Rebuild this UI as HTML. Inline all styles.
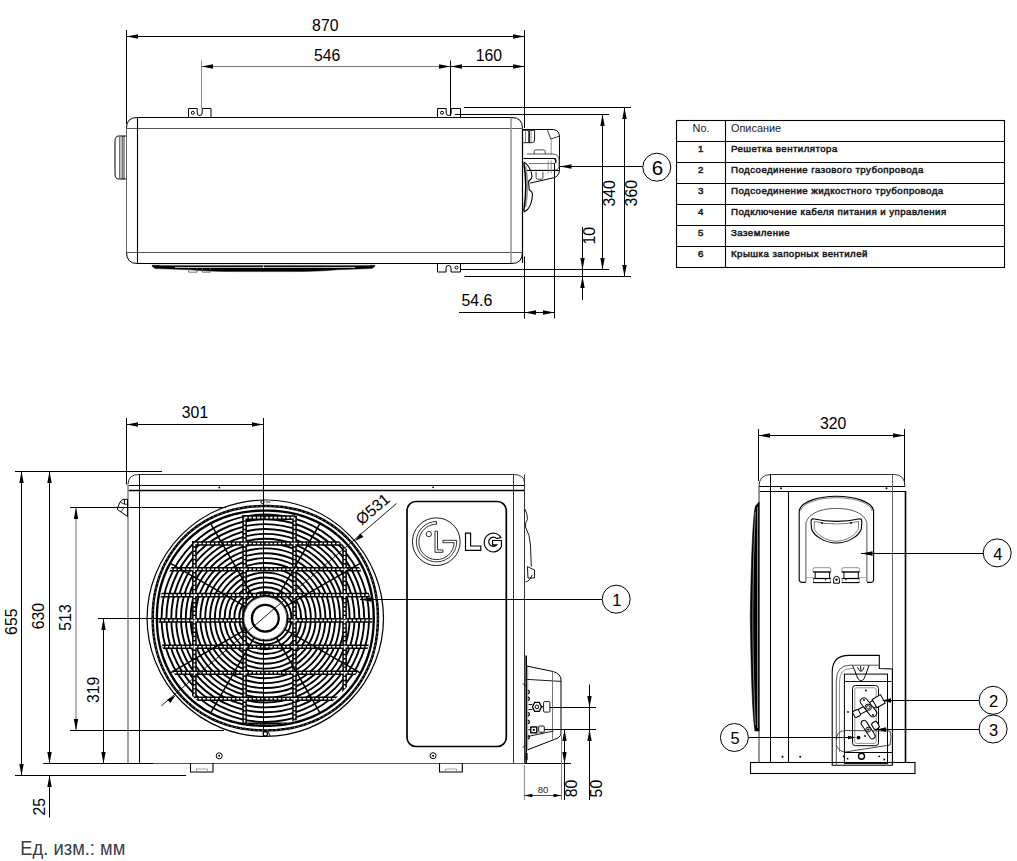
<!DOCTYPE html>
<html><head><meta charset="utf-8"><style>
html,body{margin:0;padding:0;background:#fff;overflow:hidden;}
svg{display:block;font-family:"Liberation Sans",sans-serif;}
</style></head><body>
<svg width="1017" height="861" viewBox="0 0 1017 861">
<rect width="1017" height="861" fill="#fff"/>
<line x1="126.5" y1="30" x2="126.5" y2="124" stroke="#000" stroke-width="1.0" />
<line x1="524.5" y1="30" x2="524.5" y2="128" stroke="#000" stroke-width="1.0" />
<line x1="126.5" y1="36.5" x2="524.5" y2="36.5" stroke="#000" stroke-width="1.0" />
<path d="M126.50,36.50 L138.00,34.30 L138.00,38.70 Z" fill="#000"/>
<path d="M524.50,36.50 L513.00,38.70 L513.00,34.30 Z" fill="#000"/>
<text x="325.3" y="30.8" font-size="15.8" text-anchor="middle" fill="#000" font-weight="normal" >870</text>
<line x1="201.5" y1="60.5" x2="201.5" y2="108" stroke="#8a8a8a" stroke-width="1.0" />
<line x1="450.5" y1="60.5" x2="450.5" y2="116" stroke="#000" stroke-width="1.0" />
<line x1="201.5" y1="66.5" x2="450.5" y2="66.5" stroke="#777" stroke-width="1.0" />
<line x1="450.5" y1="66.5" x2="524.5" y2="66.5" stroke="#000" stroke-width="1.0" />
<path d="M201.50,66.50 L213.00,64.30 L213.00,68.70 Z" fill="#000"/>
<path d="M450.50,66.50 L439.00,68.70 L439.00,64.30 Z" fill="#000"/>
<path d="M450.50,66.50 L462.00,64.30 L462.00,68.70 Z" fill="#000"/>
<path d="M524.50,66.50 L513.00,68.70 L513.00,64.30 Z" fill="#000"/>
<text x="327.1" y="60.6" font-size="15.8" text-anchor="middle" fill="#000" font-weight="normal" >546</text>
<text x="488.9" y="60.6" font-size="15.8" text-anchor="middle" fill="#000" font-weight="normal" >160</text>
<path d="M126.5,128 Q126.5,117.5 137,117.5 L512,117.5 Q522.5,117.5 522.5,128.5 L522.5,252 Q522.5,263.5 512,263.5 L137,263.5 Q126.5,263.5 126.5,252" stroke="#000" stroke-width="1.0" fill="none" />
<line x1="126.5" y1="128" x2="126.5" y2="252" stroke="#666" stroke-width="1" />
<line x1="126.5" y1="128.5" x2="523" y2="128.5" stroke="#555" stroke-width="1" />
<line x1="126.5" y1="252.5" x2="523" y2="252.5" stroke="#555" stroke-width="1" />
<line x1="137.5" y1="117.5" x2="137.5" y2="263" stroke="#000" stroke-width="1.1" />
<line x1="511" y1="117.5" x2="511" y2="263" stroke="#999" stroke-width="1.6" />
<path d="M188.5,117 L188.5,108.5 L197.2,108.5 L197.2,113 A2.5,2.5 0 0 0 202.2,113 L202.2,108.5 L211,108.5 L211,117" stroke="#000" stroke-width="1" fill="none" />
<circle cx="192.8" cy="112.8" r="1.5" stroke="#000" stroke-width="1" fill="none" />
<path d="M437.5,117 L437.5,108.5 L446.2,108.5 L446.2,113 A2.5,2.5 0 0 0 451.2,113 L451.2,108.5 L460.5,108.5 L460.5,117" stroke="#000" stroke-width="1" fill="none" />
<circle cx="442" cy="112.8" r="1.5" stroke="#000" stroke-width="1" fill="none" />
<path d="M437.5,263.5 L437.5,272 L446,272 L446,268 A2.5,2.5 0 0 1 451,268 L451,272 L460.5,272 L460.5,263.5" stroke="#000" stroke-width="1" fill="none" />
<circle cx="456.5" cy="267.6" r="1.5" stroke="#000" stroke-width="1" fill="none" />
<path d="M126,136 L119,136 Q115,136 115,141 L115,174 Q115,179 119,179 L126,179" stroke="#000" stroke-width="1" fill="none" />
<line x1="119.8" y1="137" x2="119.8" y2="178" stroke="#000" stroke-width="0.8" />
<line x1="122.2" y1="136" x2="122.2" y2="179" stroke="#000" stroke-width="0.8" />
<line x1="124" y1="136" x2="124" y2="179" stroke="#000" stroke-width="0.8" />
<path d="M152,265.2 L375,265.2 L375,266.2 L372,268.5 L337,269.8 Q320,271.6 291,271.6 L236,271.6 Q207,271.6 190,269.8 L155,268.5 L152,266.2 Z" stroke="#000" stroke-width="0.4" fill="#000" />
<line x1="175" y1="267.4" x2="355" y2="267.4" stroke="#fff" stroke-width="0.8" />
<line x1="160" y1="265.0" x2="370" y2="265.0" stroke="#fff" stroke-width="0.5" />
<line x1="263.5" y1="265.5" x2="263.5" y2="268.2" stroke="#fff" stroke-width="0.8" />
<path d="M188.7,268 L188.7,272.2 L197,272.2 L197,268 M202.4,268 L202.4,272.2 L210.3,272.2 L210.3,268" stroke="#555" stroke-width="0.8" fill="none" />
<path d="M523,129.5 L553.5,129.5 Q559.5,130.5 559.5,137 L559.5,170.3 Q559,176.5 553.5,177.8 L530.1,183.1" stroke="#000" stroke-width="1" fill="none" />
<path d="M547.4,129.9 L550.8,139 L559.1,136.3" stroke="#000" stroke-width="0.8" fill="none" />
<line x1="551.2" y1="139" x2="551.2" y2="154.4" stroke="#777" stroke-width="0.8" />
<path d="M523.3,130.3 L534.6,130.3 L534.6,140 Q534.6,142.7 531.5,142.7 L523.3,142.7" stroke="#000" stroke-width="0.9" fill="none" />
<line x1="525.5" y1="130.5" x2="525.5" y2="142.5" stroke="#666" stroke-width="0.8" />
<line x1="529.1" y1="130.5" x2="529.1" y2="142.5" stroke="#000" stroke-width="1.5" />
<line x1="531" y1="130.5" x2="531" y2="142.5" stroke="#666" stroke-width="0.7" />
<path d="M527,154 L553,154 Q559.1,154.5 559.1,160 L559.1,166 Q559,170.3 553,170.3 L527,170.3" stroke="#444" stroke-width="0.9" fill="none" />
<line x1="523.3" y1="158.5" x2="555.7" y2="158.5" stroke="#000" stroke-width="1.1" />
<path d="M554.6,158.5 Q556.5,160 555.5,163" stroke="#000" stroke-width="1.4" fill="none" />
<line x1="529" y1="163.5" x2="554.2" y2="163.5" stroke="#555" stroke-width="0.8" />
<line x1="527" y1="170.5" x2="559.1" y2="170.5" stroke="#000" stroke-width="1.1" />
<path d="M534.2,154 L534.2,151.5 Q534.2,149.9 536,149.9 L543.5,149.9 Q545.2,149.9 545.2,151.5 L545.2,154" stroke="#333" stroke-width="0.9" fill="none" />
<path d="M536.1,171.8 L536.1,177.5 Q536.1,179.3 538,179.3 L541,179.3 Q542.9,179.3 542.9,177.5 L542.9,171.8" stroke="#333" stroke-width="0.9" fill="none" />
<line x1="548.2" y1="160.5" x2="548.2" y2="173.3" stroke="#777" stroke-width="0.8" />
<line x1="551.2" y1="160.5" x2="551.2" y2="173.3" stroke="#777" stroke-width="0.8" />
<path d="M525.5,166 Q529.5,185 525.5,207" stroke="#999" stroke-width="1.6" fill="none" />
<path d="M523.6,162 C526,163 531,168 531.9,175 C532.5,179 530,180 528.5,181 L529.3,190 C531,191 532.8,192 532.5,195 C532,200 531,206 527.5,209.5 C525.5,211 524,212 523.6,212" stroke="#000" stroke-width="1.1" fill="none" />
<path d="M523.8,163 Q527.8,185 523.8,211" stroke="#000" stroke-width="1.5" fill="none" />
<line x1="522.5" y1="129" x2="522.5" y2="263" stroke="#000" stroke-width="1.2" />
<line x1="464" y1="107.5" x2="631" y2="107.5" stroke="#000" stroke-width="1.0" />
<line x1="455" y1="114.5" x2="609" y2="114.5" stroke="#000" stroke-width="1.0" />
<line x1="460.5" y1="269.5" x2="609" y2="269.5" stroke="#000" stroke-width="1.0" />
<line x1="464.5" y1="276.5" x2="631" y2="276.5" stroke="#000" stroke-width="1.0" />
<line x1="602.5" y1="114.5" x2="602.5" y2="269.5" stroke="#000" stroke-width="1.0" />
<path d="M602.50,114.50 L604.70,126.00 L600.30,126.00 Z" fill="#000"/>
<path d="M602.50,269.50 L600.30,258.00 L604.70,258.00 Z" fill="#000"/>
<line x1="624.5" y1="107.5" x2="624.5" y2="276.5" stroke="#000" stroke-width="1.0" />
<path d="M624.50,107.50 L626.70,119.00 L622.30,119.00 Z" fill="#000"/>
<path d="M624.50,276.50 L622.30,265.00 L626.70,265.00 Z" fill="#000"/>
<text x="615.0" y="193.4" font-size="15.8" text-anchor="middle" fill="#000" font-weight="normal" transform="rotate(-90 615.0 193.4)" >340</text>
<text x="637.2" y="193.2" font-size="15.8" text-anchor="middle" fill="#000" font-weight="normal" transform="rotate(-90 637.2 193.2)" >360</text>
<line x1="582.5" y1="227" x2="582.5" y2="300" stroke="#000" stroke-width="1.0" />
<path d="M582.50,269.50 L580.30,258.00 L584.70,258.00 Z" fill="#000"/>
<path d="M582.50,276.50 L584.70,288.00 L580.30,288.00 Z" fill="#000"/>
<text x="595.1" y="235.8" font-size="15.8" text-anchor="middle" fill="#000" font-weight="normal" transform="rotate(-90 595.1 235.8)" >10</text>
<line x1="524.5" y1="256.5" x2="524.5" y2="318.5" stroke="#000" stroke-width="1.0" />
<line x1="554.5" y1="163" x2="554.5" y2="318.5" stroke="#000" stroke-width="1.0" />
<line x1="459" y1="312.5" x2="554.5" y2="312.5" stroke="#000" stroke-width="1.0" />
<path d="M524.50,312.50 L536.00,310.30 L536.00,314.70 Z" fill="#000"/>
<path d="M554.50,312.50 L543.00,314.70 L543.00,310.30 Z" fill="#000"/>
<text x="461.5" y="306.3" font-size="15.8" text-anchor="start" fill="#000" font-weight="normal" >54.6</text>
<line x1="560" y1="166.5" x2="642.6" y2="166.5" stroke="#000" stroke-width="1.0" />
<path d="M560.00,166.50 L571.50,164.30 L571.50,168.70 Z" fill="#000"/>
<circle cx="656.8" cy="167.2" r="14" stroke="#000" stroke-width="1.0" fill="#fff" />
<text x="657.4" y="175.27999999999997" font-size="20.5" text-anchor="middle" fill="#000" font-weight="normal" >6</text>
<rect x="676.5" y="120.5" width="328.0" height="147" fill="none" stroke="#000" stroke-width="1.1"/>
<line x1="725.5" y1="120.5" x2="725.5" y2="267.5" stroke="#000" stroke-width="1.1" />
<line x1="676.5" y1="141.5" x2="1004.5" y2="141.5" stroke="#000" stroke-width="1.1" />
<line x1="676.5" y1="162.5" x2="1004.5" y2="162.5" stroke="#000" stroke-width="1.1" />
<line x1="676.5" y1="183.5" x2="1004.5" y2="183.5" stroke="#000" stroke-width="1.1" />
<line x1="676.5" y1="204.5" x2="1004.5" y2="204.5" stroke="#000" stroke-width="1.1" />
<line x1="676.5" y1="225.5" x2="1004.5" y2="225.5" stroke="#000" stroke-width="1.1" />
<line x1="676.5" y1="246.5" x2="1004.5" y2="246.5" stroke="#000" stroke-width="1.1" />
<text x="701" y="131.9" font-size="10.9" text-anchor="middle" fill="#1a1a1a" font-weight="normal" >No.</text>
<text x="731" y="131.9" font-size="10.9" text-anchor="start" fill="#1a1a1a" font-weight="normal" >Описание</text>
<text x="701" y="151.9" font-size="9.7" text-anchor="middle" fill="#1a1a1a" font-weight="normal" stroke="#1a1a1a" stroke-width="0.5" letter-spacing="0.45">1</text>
<text x="731" y="151.9" font-size="9.7" text-anchor="start" fill="#1a1a1a" font-weight="normal" stroke="#1a1a1a" stroke-width="0.5" letter-spacing="0.45">Решетка вентилятора</text>
<text x="701" y="172.9" font-size="9.7" text-anchor="middle" fill="#1a1a1a" font-weight="normal" stroke="#1a1a1a" stroke-width="0.5" letter-spacing="0.45">2</text>
<text x="731" y="172.9" font-size="9.7" text-anchor="start" fill="#1a1a1a" font-weight="normal" stroke="#1a1a1a" stroke-width="0.5" letter-spacing="0.45">Подсоединение газового трубопровода</text>
<text x="701" y="193.9" font-size="9.7" text-anchor="middle" fill="#1a1a1a" font-weight="normal" stroke="#1a1a1a" stroke-width="0.5" letter-spacing="0.45">3</text>
<text x="731" y="193.9" font-size="9.7" text-anchor="start" fill="#1a1a1a" font-weight="normal" stroke="#1a1a1a" stroke-width="0.5" letter-spacing="0.45">Подсоединение жидкостного трубопровода</text>
<text x="701" y="214.9" font-size="9.7" text-anchor="middle" fill="#1a1a1a" font-weight="normal" stroke="#1a1a1a" stroke-width="0.5" letter-spacing="0.45">4</text>
<text x="731" y="214.9" font-size="9.7" text-anchor="start" fill="#1a1a1a" font-weight="normal" stroke="#1a1a1a" stroke-width="0.5" letter-spacing="0.45">Подключение кабеля питания и управления</text>
<text x="701" y="235.9" font-size="9.7" text-anchor="middle" fill="#1a1a1a" font-weight="normal" stroke="#1a1a1a" stroke-width="0.5" letter-spacing="0.45">5</text>
<text x="731" y="235.9" font-size="9.7" text-anchor="start" fill="#1a1a1a" font-weight="normal" stroke="#1a1a1a" stroke-width="0.5" letter-spacing="0.45">Заземление</text>
<text x="701" y="256.9" font-size="9.7" text-anchor="middle" fill="#1a1a1a" font-weight="normal" stroke="#1a1a1a" stroke-width="0.5" letter-spacing="0.45">6</text>
<text x="731" y="256.9" font-size="9.7" text-anchor="start" fill="#1a1a1a" font-weight="normal" stroke="#1a1a1a" stroke-width="0.5" letter-spacing="0.45">Крышка запорных вентилей</text>
<line x1="126.5" y1="418" x2="126.5" y2="484.5" stroke="#000" stroke-width="1.0" />
<line x1="263.5" y1="418" x2="263.5" y2="736" stroke="#000" stroke-width="1.0" />
<line x1="126.5" y1="424.5" x2="263.5" y2="424.5" stroke="#000" stroke-width="1.0" />
<path d="M126.50,424.50 L138.00,422.30 L138.00,426.70 Z" fill="#000"/>
<path d="M263.50,424.50 L252.00,426.70 L252.00,422.30 Z" fill="#000"/>
<text x="195" y="418.3" font-size="15.8" text-anchor="middle" fill="#000" font-weight="normal" >301</text>
<line x1="15" y1="471.5" x2="162" y2="471.5" stroke="#000" stroke-width="1.0" />
<path d="M128,484.5 Q128,474.5 139,474.5 L513.5,474.5 Q524.5,474.5 524.5,483 L524.5,490.5" stroke="#333" stroke-width="1" fill="none" />
<line x1="128" y1="485.5" x2="524.5" y2="485.5" stroke="#000" stroke-width="1.0" />
<line x1="128" y1="490.5" x2="524.3" y2="490.5" stroke="#000" stroke-width="1.6" />
<line x1="139.5" y1="474.5" x2="139.5" y2="763.5" stroke="#000" stroke-width="1.0" />
<line x1="128" y1="485" x2="128" y2="763.5" stroke="#9a9a9a" stroke-width="1.8" />
<line x1="513.5" y1="474.5" x2="513.5" y2="763.5" stroke="#333" stroke-width="1" />
<circle cx="219.3" cy="487.5" r="0.9" stroke="#000" stroke-width="0" fill="#000" />
<circle cx="433.1" cy="487.3" r="0.9" stroke="#000" stroke-width="0" fill="#000" />
<line x1="128" y1="763.5" x2="524.5" y2="763.5" stroke="#555" stroke-width="1" />
<path d="M190.5,763 L190.5,772 L213,772 L213,763" stroke="#000" stroke-width="1.1" fill="none" />
<path d="M196.5,771 L196.5,769 L207.5,769 L207.5,771" stroke="#888" stroke-width="0.8" fill="none" />
<path d="M439.5,763 L439.5,772 L462.3,772 L462.3,763" stroke="#000" stroke-width="1.1" fill="none" />
<path d="M445.5,771 L445.5,769 L456.5,769 L456.5,771" stroke="#888" stroke-width="0.8" fill="none" />
<circle cx="219.2" cy="755.8" r="3" stroke="#000" stroke-width="1" fill="none" />
<circle cx="219.2" cy="755.8" r="1" stroke="#000" stroke-width="0" fill="#000" />
<circle cx="433.1" cy="755.7" r="3" stroke="#000" stroke-width="1" fill="none" />
<circle cx="433.1" cy="755.7" r="1" stroke="#000" stroke-width="0" fill="#000" />
<path d="M127.5,499.3 L123,499.3 Q119.5,501 117.9,507.1 L117.3,509.5 L127.5,516.4 Z" stroke="#000" stroke-width="1" fill="none" />
<line x1="124.4" y1="499.8" x2="124.4" y2="504.2" stroke="#000" stroke-width="1" />
<line x1="120.5" y1="502.2" x2="124.4" y2="504.2" stroke="#000" stroke-width="0.8" />
<line x1="124" y1="507.5" x2="121" y2="511.8" stroke="#000" stroke-width="0.8" />
<line x1="124.4" y1="504.2" x2="127.5" y2="504.2" stroke="#000" stroke-width="0.8" />
<rect x="407" y="501.5" width="99.3" height="245" rx="9" ry="9" fill="none" stroke="#000" stroke-width="1.7"/>
<circle cx="436.3" cy="541.7" r="23.85" stroke="#000" stroke-width="0.9" fill="none" />
<path d="M436.5,521.5 A20.2,20.2 0 1 0 456.7,540.3 L442.9,540.3 L442.9,542.7 L454.2,542.7 A17.7,17.7 0 1 1 436.5,524.2 Z" stroke="#000" stroke-width="0.8" fill="none" />
<path d="M435,531.2 L437.5,531.2 L437.5,549.9 L442.9,549.9 L442.9,552.3 L435,552.3 Z" stroke="#000" stroke-width="0.8" fill="none" />
<circle cx="428.8" cy="534.1" r="2.65" stroke="#000" stroke-width="0.8" fill="none" />
<path d="M465.5,533.1 L470.6,533.1 L470.6,546 L480.8,546 L480.8,550.3 L465.5,550.3 Z" stroke="#000" stroke-width="1.15" fill="#fff" />
<path d="M500.9,537.6 A9,9.4 0 1 0 501.4,546.5 L501.4,540.5 L492.6,540.5 L492.6,544.8 L496.8,544.8 A4.6,4.6 0 1 1 496.7,538.6 Z" stroke="#000" stroke-width="1.15" fill="#fff" />
<path d="M524.9,509 Q528,515 527.4,519.4 Q525,522 525.5,527 Q530,535 530.5,545 L531.3,566.6" stroke="#000" stroke-width="0.9" fill="none" />
<path d="M527.4,566.6 L534.5,570 L534.5,578 L528,578 Z M525.5,582 Q530,581 532,575" stroke="#000" stroke-width="0.9" fill="none" />
<line x1="524.5" y1="474.5" x2="524.5" y2="763.5" stroke="#333" stroke-width="1" />
<line x1="526.2" y1="655.6" x2="526.2" y2="763" stroke="#000" stroke-width="1.6" />
<line x1="527.6" y1="666" x2="527.6" y2="749.8" stroke="#aaa" stroke-width="1.4" />
<path d="M526.9,666 L553.4,671.6 Q561,674 561,680 L561,733.7 Q560,738 554.8,739.3 L527.6,749.8" stroke="#000" stroke-width="1" fill="none" />
<line x1="525.5" y1="679.3" x2="561" y2="681.4" stroke="#000" stroke-width="0.9" />
<line x1="552.5" y1="671.6" x2="552.5" y2="739.3" stroke="#666" stroke-width="0.9" />
<line x1="527.6" y1="736.5" x2="553.4" y2="731" stroke="#000" stroke-width="0.9" />
<line x1="522.5" y1="683.5" x2="525.5" y2="685.5" stroke="#000" stroke-width="0.8" />
<line x1="522.5" y1="747.5" x2="525.5" y2="745.5" stroke="#000" stroke-width="0.8" />
<path d="M527.8,690.3 A1.6,1.6 0 0 1 527.8,693.5" stroke="#000" stroke-width="1.2" fill="none" />
<path d="M527.8,697.1999999999999 A1.6,1.6 0 0 1 527.8,700.4" stroke="#000" stroke-width="1.2" fill="none" />
<path d="M527.8,712.6 A1.6,1.6 0 0 1 527.8,715.8000000000001" stroke="#000" stroke-width="1.2" fill="none" />
<path d="M527.8,720.3 A1.6,1.6 0 0 1 527.8,723.5" stroke="#000" stroke-width="1.2" fill="none" />
<path d="M527.8,735.6 A1.6,1.6 0 0 1 527.8,738.8000000000001" stroke="#000" stroke-width="1.2" fill="none" />
<path d="M526.5,753 L526.5,760" stroke="#000" stroke-width="2.2" fill="none" />
<path d="M528.5,704.5 L532.4,704.5 M528.5,709.5 L532.4,709.5" stroke="#000" stroke-width="0.9" fill="none" />
<path d="M534.7,702.3 L539.2,702.3 L541.5,706.85 L539.2,711.4 L534.7,711.4 L532.4,706.85 Z" stroke="#000" stroke-width="1.3" fill="none" />
<circle cx="536.95" cy="706.85" r="1.8" stroke="#000" stroke-width="1" fill="none" />
<rect x="543.6" y="701.6" width="6.3" height="10.5" rx="1" fill="#fff" stroke="#000" stroke-width="0.9"/>
<line x1="541.5" y1="706.85" x2="543.6" y2="706.85" stroke="#000" stroke-width="1" />
<rect x="530.8" y="727" width="6" height="5.8" fill="none" stroke="#000" stroke-width="1.4"/>
<circle cx="533.8" cy="729.9" r="1.1" stroke="#000" stroke-width="0" fill="#000" />
<rect x="538.7" y="726" width="5.6" height="6.3" rx="1" fill="#fff" stroke="#000" stroke-width="0.9"/>
<line x1="528.3" y1="729.7" x2="530.8" y2="729.7" stroke="#000" stroke-width="0.9" />
<line x1="549.9" y1="707.5" x2="596" y2="707.5" stroke="#000" stroke-width="1.0" />
<line x1="544.3" y1="729.5" x2="596" y2="729.5" stroke="#000" stroke-width="1.0" />
<line x1="589.5" y1="684.5" x2="589.5" y2="800" stroke="#000" stroke-width="1.0" />
<path d="M589.50,707.50 L587.30,696.00 L591.70,696.00 Z" fill="#000"/>
<path d="M589.50,729.50 L591.70,741.00 L587.30,741.00 Z" fill="#000"/>
<line x1="524.5" y1="763.5" x2="571" y2="763.5" stroke="#000" stroke-width="1.0" />
<line x1="564.5" y1="729.5" x2="564.5" y2="800" stroke="#000" stroke-width="1.0" />
<path d="M564.50,729.50 L566.70,741.00 L562.30,741.00 Z" fill="#000"/>
<path d="M564.50,763.50 L562.30,752.00 L566.70,752.00 Z" fill="#000"/>
<line x1="524.4" y1="765" x2="524.4" y2="800" stroke="#777" stroke-width="0.9" />
<line x1="561.5" y1="735" x2="561.5" y2="800" stroke="#777" stroke-width="0.9" />
<line x1="524.4" y1="795.5" x2="561.5" y2="795.5" stroke="#333" stroke-width="0.9" />
<path d="M524.40,795.50 L532.40,793.70 L532.40,797.30 Z" fill="#000"/>
<path d="M561.50,795.50 L553.50,797.30 L553.50,793.70 Z" fill="#000"/>
<text x="543" y="792.5" font-size="9.5" text-anchor="middle" fill="#222" font-weight="normal" >80</text>
<text x="577.2" y="788.4" font-size="15.8" text-anchor="middle" fill="#000" font-weight="normal" transform="rotate(-90 577.2 788.4)" >80</text>
<text x="602.5" y="788.6" font-size="15.8" text-anchor="middle" fill="#000" font-weight="normal" transform="rotate(-90 602.5 788.6)" >50</text>
<line x1="21.5" y1="471.5" x2="21.5" y2="775" stroke="#000" stroke-width="1.0" />
<path d="M21.50,471.50 L23.70,483.00 L19.30,483.00 Z" fill="#000"/>
<path d="M21.50,775.50 L19.30,764.00 L23.70,764.00 Z" fill="#000"/>
<line x1="49.5" y1="471.5" x2="49.5" y2="763.5" stroke="#000" stroke-width="1.0" />
<path d="M49.50,471.50 L51.70,483.00 L47.30,483.00 Z" fill="#000"/>
<path d="M49.50,763.50 L47.30,752.00 L51.70,752.00 Z" fill="#000"/>
<line x1="49.5" y1="775.5" x2="49.5" y2="817.5" stroke="#000" stroke-width="1.0" />
<path d="M49.50,775.50 L51.70,787.00 L47.30,787.00 Z" fill="#000"/>
<line x1="76" y1="507.5" x2="76" y2="730.5" stroke="#888" stroke-width="1.2" />
<path d="M76.00,507.50 L78.20,519.00 L73.80,519.00 Z" fill="#000"/>
<path d="M76.00,730.50 L73.80,719.00 L78.20,719.00 Z" fill="#000"/>
<line x1="103.5" y1="618.5" x2="103.5" y2="763.5" stroke="#000" stroke-width="1.0" />
<path d="M103.50,618.50 L105.70,630.00 L101.30,630.00 Z" fill="#000"/>
<path d="M103.50,763.50 L101.30,752.00 L105.70,752.00 Z" fill="#000"/>
<line x1="70" y1="507.5" x2="226" y2="507.5" stroke="#000" stroke-width="1.0" />
<line x1="70" y1="730.5" x2="224" y2="730.5" stroke="#000" stroke-width="1.0" />
<line x1="43.3" y1="763.5" x2="153" y2="763.5" stroke="#000" stroke-width="1.0" />
<line x1="15" y1="775.5" x2="186" y2="775.5" stroke="#000" stroke-width="1.0" />
<line x1="98" y1="618.5" x2="265" y2="618.5" stroke="#000" stroke-width="1.0" />
<text x="17.2" y="621.7" font-size="15.8" text-anchor="middle" fill="#000" font-weight="normal" transform="rotate(-90 17.2 621.7)" >655</text>
<text x="44.4" y="616.1" font-size="15.8" text-anchor="middle" fill="#000" font-weight="normal" transform="rotate(-90 44.4 616.1)" >630</text>
<text x="71.3" y="617.5" font-size="15.8" text-anchor="middle" fill="#000" font-weight="normal" transform="rotate(-90 71.3 617.5)" >513</text>
<text x="99.1" y="689.9" font-size="15.8" text-anchor="middle" fill="#000" font-weight="normal" transform="rotate(-90 99.1 689.9)" >319</text>
<text x="44.6" y="806.7" font-size="15.8" text-anchor="middle" fill="#000" font-weight="normal" transform="rotate(-90 44.6 806.7)" >25</text>
<line x1="360" y1="599.5" x2="602.2" y2="599.5" stroke="#000" stroke-width="1.0" />
<path d="M360.00,599.50 L371.50,597.30 L371.50,601.70 Z" fill="#000"/>
<circle cx="616.2" cy="599.2" r="14" stroke="#000" stroke-width="1.0" fill="#fff" />
<text x="616.8000000000001" y="605.8400000000001" font-size="16.5" text-anchor="middle" fill="#000" font-weight="normal" >1</text>
<line x1="758.5" y1="429" x2="758.5" y2="481" stroke="#000" stroke-width="1.0" />
<line x1="904.5" y1="429" x2="904.5" y2="485" stroke="#000" stroke-width="1.0" />
<line x1="758.5" y1="435.5" x2="904.5" y2="435.5" stroke="#000" stroke-width="1.0" />
<path d="M758.50,435.50 L770.00,433.30 L770.00,437.70 Z" fill="#000"/>
<path d="M904.50,435.50 L893.00,437.70 L893.00,433.30 Z" fill="#000"/>
<text x="833.1" y="428.6" font-size="15.8" text-anchor="middle" fill="#000" font-weight="normal" >320</text>
<path d="M759,486.5 Q759,474.5 771,474.5 L894,474.5 Q905,474.5 905,486.5" stroke="#333" stroke-width="1" fill="none" />
<line x1="759" y1="486.5" x2="905" y2="486.5" stroke="#000" stroke-width="1.0" />
<line x1="759" y1="491.5" x2="905" y2="491.5" stroke="#000" stroke-width="1.0" />
<line x1="770.5" y1="474.5" x2="770.5" y2="762.5" stroke="#000" stroke-width="1" />
<line x1="892.5" y1="474.5" x2="892.5" y2="762.5" stroke="#666" stroke-width="1" />
<line x1="788.5" y1="491.5" x2="788.5" y2="762.5" stroke="#000" stroke-width="1.1" />
<line x1="759" y1="486.5" x2="759" y2="762.5" stroke="#333" stroke-width="1" />
<line x1="905.5" y1="491" x2="905.5" y2="762.5" stroke="#000" stroke-width="1.6" />
<circle cx="781" cy="488.2" r="1" stroke="#000" stroke-width="0" fill="#000" />
<circle cx="886.5" cy="488.2" r="1" stroke="#000" stroke-width="0" fill="#000" />
<rect x="750.5" y="762.5" width="164.5" height="11" fill="none" stroke="#000" stroke-width="1.1"/>
<path d="M759.1,502 L755.5,506 Q751.8,520 750.3,617 Q751.6,712 755,731 L759.1,731 Z" stroke="#000" stroke-width="0.6" fill="#000" />
<path d="M755.4,512 Q753,560 752.8,617 Q753,680 755.4,725" stroke="#fff" stroke-width="0.5" fill="none" />
<path d="M757.6,507 L757.6,728" stroke="#fff" stroke-width="0.6" fill="none" />
<line x1="759.1" y1="491" x2="759.1" y2="502" stroke="#999" stroke-width="1" />
<path d="M799.2,579 L799.2,510.9 C801,501 820,496.3 836.4,496.3 C853,496.3 872,501 873.6,510.9 L873.6,579 Q873.6,582.4 870.5,582.4 L867,582.4 M805.8,582.4 L802.5,582.4 Q799.2,582.4 799.2,579" stroke="#000" stroke-width="1.1" fill="none" />
<path d="M800.6,511 C802.5,502.5 820,497.7 836.4,497.7 C853,497.7 870.5,502.5 872.2,511" stroke="#444" stroke-width="0.7" fill="none" />
<path d="M805.9,582 L805.9,523.4 C808,513 822,508.4 836.4,508.4 C851,508.4 865,513 866.9,523.4 L866.9,582" stroke="#555" stroke-width="1" fill="none" />
<path d="M813,518.8 Q836.4,524 860,518.8 Q862,519 861.8,522 L861.3,529 C859,536 848,543 836.4,543 C825,543 814,536 811.6,529 L811,522 Q811,519 813,518.8 Z" stroke="#000" stroke-width="1.1" fill="none" />
<path d="M814.3,521.5 Q836.4,526.5 858.5,521.5 L858.6,528.5 C856.5,534.5 846.5,541.2 836.4,541.2 C826.3,541.2 816.3,534.5 814.3,528.5 Z" stroke="#444" stroke-width="0.7" fill="none" />
<line x1="822" y1="522" x2="822" y2="524" stroke="#000" stroke-width="1.4" />
<line x1="851" y1="522" x2="851" y2="524" stroke="#000" stroke-width="1.4" />
<rect x="813" y="567.7" width="17.9" height="4.6" rx="1.6" fill="#fff" stroke="#777" stroke-width="0.8"/>
<line x1="813" y1="571.9" x2="830.9" y2="571.9" stroke="#000" stroke-width="1.2" />
<line x1="815.2" y1="572" x2="815.2" y2="578.5" stroke="#000" stroke-width="1" />
<line x1="829.6" y1="572" x2="829.6" y2="578.5" stroke="#000" stroke-width="1" />
<line x1="813" y1="578.5" x2="830.9" y2="578.5" stroke="#000" stroke-width="1.2" />
<line x1="813.5" y1="578.5" x2="813.5" y2="582.5" stroke="#777" stroke-width="0.8" />
<line x1="830.4" y1="578.5" x2="830.4" y2="582.5" stroke="#777" stroke-width="0.8" />
<line x1="813" y1="582.6" x2="830.9" y2="582.6" stroke="#000" stroke-width="1.1" />
<rect x="841.7" y="567.7" width="17.9" height="4.6" rx="1.6" fill="#fff" stroke="#777" stroke-width="0.8"/>
<line x1="841.7" y1="571.9" x2="859.6" y2="571.9" stroke="#000" stroke-width="1.2" />
<line x1="843.9000000000001" y1="572" x2="843.9000000000001" y2="578.5" stroke="#000" stroke-width="1" />
<line x1="858.3000000000001" y1="572" x2="858.3000000000001" y2="578.5" stroke="#000" stroke-width="1" />
<line x1="841.7" y1="578.5" x2="859.6" y2="578.5" stroke="#000" stroke-width="1.2" />
<line x1="842.2" y1="578.5" x2="842.2" y2="582.5" stroke="#777" stroke-width="0.8" />
<line x1="859.1" y1="578.5" x2="859.1" y2="582.5" stroke="#777" stroke-width="0.8" />
<line x1="841.7" y1="582.6" x2="859.6" y2="582.6" stroke="#000" stroke-width="1.1" />
<line x1="825.4" y1="579" x2="825.4" y2="580.5" stroke="#000" stroke-width="1" />
<line x1="846" y1="579" x2="846" y2="580.5" stroke="#000" stroke-width="1" />
<path d="M833.6,583.2 L833.6,579.5 Q833.6,576.3 836.5,576.3 Q839.4,576.3 839.4,579.5 L839.4,583.2 Z" stroke="#000" stroke-width="1" fill="#fff" />
<circle cx="836.5" cy="579.6" r="1.2" stroke="#000" stroke-width="0" fill="#000" />
<line x1="806" y1="577.6" x2="813" y2="577.6" stroke="#999" stroke-width="0.8" />
<line x1="859.6" y1="577.6" x2="867" y2="577.6" stroke="#999" stroke-width="0.8" />
<line x1="861" y1="553.5" x2="983.4" y2="553.5" stroke="#000" stroke-width="1.0" />
<path d="M861.00,553.50 L872.50,551.30 L872.50,555.70 Z" fill="#000"/>
<circle cx="997.2" cy="552.9" r="14" stroke="#000" stroke-width="1.0" fill="#fff" />
<text x="997.8000000000001" y="559.5400000000001" font-size="16.5" text-anchor="middle" fill="#000" font-weight="normal" >4</text>
<path d="M832.2,765.2 L832.2,672 Q832.2,655.4 849,655.4 L879.3,655.4 L879.3,668.5 L892.4,669 L892.4,765.2 Z" stroke="#000" stroke-width="1.1" fill="none" />
<path d="M836.3,765 L836.3,681 Q836.3,665.2 850,665.2 L880,665.2" stroke="#444" stroke-width="0.9" fill="none" />
<path d="M839.5,752 L839.5,682 Q839.5,668.5 851,668.5 L853,668.5" stroke="#777" stroke-width="0.8" fill="none" />
<rect x="844.4" y="674.1" width="43.1" height="89.5" fill="none" stroke="#000" stroke-width="1"/>
<line x1="844.4" y1="681.5" x2="891.5" y2="681.5" stroke="#000" stroke-width="0.9" />
<rect x="852.5" y="685.5" width="26" height="60.2" rx="3" fill="none" stroke="#000" stroke-width="1"/>
<rect x="854.8" y="687.8" width="21.4" height="55.6" rx="2" fill="none" stroke="#666" stroke-width="0.7"/>
<path d="M852.5,665.5 L855,671 Q858,681 861,681 Q864,681 867,671 L869,665.5" stroke="#000" stroke-width="1" fill="none" />
<path d="M857.5,667 Q861,676 864,667 M860.5,666 L861,671" stroke="#000" stroke-width="0.9" fill="none" />
<path d="M836.3,740 Q836.3,731 845,730.5 L890,731 Q892,736 890,745 L845,752 Q838,751 836.3,745" stroke="#333" stroke-width="0.9" fill="none" />
<line x1="844.4" y1="752.5" x2="892.4" y2="752.5" stroke="#000" stroke-width="1" />
<circle cx="861.5" cy="756.3" r="3" stroke="#000" stroke-width="1.4" fill="none" />
<circle cx="847.6" cy="758.7" r="0.9" stroke="#000" stroke-width="0" fill="#000" />
<circle cx="879.3" cy="756.3" r="0.9" stroke="#000" stroke-width="0" fill="#000" />
<circle cx="884.2" cy="759.5" r="0.9" stroke="#000" stroke-width="0" fill="#000" />
<circle cx="843.6" cy="756.3" r="0.9" stroke="#000" stroke-width="0" fill="#000" />
<circle cx="866" cy="690.5" r="0.9" stroke="#000" stroke-width="0" fill="#000" />
<circle cx="848" cy="712" r="0.9" stroke="#000" stroke-width="0" fill="#000" />
<circle cx="865" cy="736" r="0.9" stroke="#000" stroke-width="0" fill="#000" />
<rect x="-3.2" y="-2.6" width="15.5" height="5.2" fill="#fff" stroke="#000" stroke-width="1" transform="translate(868.2,707.3) rotate(153)"/>
<rect x="-3.2" y="-3.4" width="6.4" height="6.8" rx="1.5" fill="#fff" stroke="#000" stroke-width="1" transform="translate(856.6,713.5) rotate(-27)"/>
<rect x="2" y="-3.5" width="10" height="7" fill="#fff" stroke="#000" stroke-width="1" transform="translate(868.2,707.3) rotate(-30)"/>
<rect x="-4.8" y="-4.8" width="9.6" height="9.6" fill="#fff" stroke="#000" stroke-width="1" transform="translate(878.7,701.2) rotate(-30)"/>
<rect x="-3.6" y="-11" width="7.2" height="22" rx="3.6" fill="#fff" stroke="#000" stroke-width="1" transform="translate(868.5,707.3) rotate(-38)"/>
<circle cx="868.2" cy="707.3" r="3.2" stroke="#000" stroke-width="1" fill="#fff" />
<circle cx="868.2" cy="707.3" r="1.7" stroke="#000" stroke-width="0.9" fill="none" />
<circle cx="864" cy="700" r="0.9" stroke="#000" stroke-width="0" fill="#000" />
<circle cx="873" cy="715" r="0.9" stroke="#000" stroke-width="0" fill="#000" />
<rect x="-2.8" y="-10.5" width="5.6" height="21" rx="2.8" fill="#fff" stroke="#000" stroke-width="1" transform="translate(868.2,729.6) rotate(-33)"/>
<circle cx="868.2" cy="729.6" r="2.4" stroke="#000" stroke-width="1" fill="#fff" />
<circle cx="868.2" cy="729.6" r="1.1" stroke="#000" stroke-width="0" fill="#000" />
<rect x="-3" y="-3.8" width="6" height="7.6" rx="2" fill="#fff" stroke="#000" stroke-width="1.1" transform="translate(875.5,725.5) rotate(-30)"/>
<line x1="884" y1="700.5" x2="979.4" y2="700.5" stroke="#000" stroke-width="1.0" />
<path d="M882.00,700.50 L891.00,698.30 L891.00,702.70 Z" fill="#000"/>
<line x1="876" y1="729.5" x2="979.1" y2="729.5" stroke="#000" stroke-width="1.0" />
<path d="M877.00,729.50 L886.00,727.30 L886.00,731.70 Z" fill="#000"/>
<line x1="748.4" y1="737.5" x2="850" y2="737.5" stroke="#000" stroke-width="1.0" />
<path d="M856.00,737.50 L848.00,739.30 L848.00,735.70 Z" fill="#000"/>
<circle cx="858.5" cy="737.6" r="1.9" stroke="#000" stroke-width="0" fill="#000" />
<circle cx="993.1" cy="700.3" r="14" stroke="#000" stroke-width="1.0" fill="#fff" />
<text x="993.7" y="706.94" font-size="16.5" text-anchor="middle" fill="#000" font-weight="normal" >2</text>
<circle cx="993.1" cy="729" r="14" stroke="#000" stroke-width="1.0" fill="#fff" />
<text x="993.7" y="735.6400000000001" font-size="16.5" text-anchor="middle" fill="#000" font-weight="normal" >3</text>
<circle cx="734.4" cy="737.5" r="14" stroke="#000" stroke-width="1.0" fill="#fff" />
<text x="735.0" y="744.1400000000001" font-size="16.5" text-anchor="middle" fill="#000" font-weight="normal" >5</text>
<circle cx="782.5" cy="756.8" r="1" stroke="#000" stroke-width="0" fill="#000" />
<circle cx="800.2" cy="756.8" r="1" stroke="#000" stroke-width="0" fill="#000" />
<defs><clipPath id="gr"><circle cx="265.3" cy="618.2" r="106.8"/></clipPath></defs>
<g clip-path="url(#gr)">
<circle cx="265.3" cy="618.2" r="26.15" stroke="#000" stroke-width="1.9" fill="none" />
<circle cx="265.3" cy="618.2" r="31.0" stroke="#000" stroke-width="1.9" fill="none" />
<circle cx="265.3" cy="618.2" r="35.85" stroke="#000" stroke-width="1.9" fill="none" />
<circle cx="265.3" cy="618.2" r="40.7" stroke="#000" stroke-width="1.9" fill="none" />
<circle cx="265.3" cy="618.2" r="45.55" stroke="#000" stroke-width="1.9" fill="none" />
<circle cx="265.3" cy="618.2" r="50.4" stroke="#000" stroke-width="1.9" fill="none" />
<circle cx="265.3" cy="618.2" r="55.25" stroke="#000" stroke-width="1.9" fill="none" />
<circle cx="265.3" cy="618.2" r="60.1" stroke="#000" stroke-width="1.9" fill="none" />
<circle cx="265.3" cy="618.2" r="64.95" stroke="#000" stroke-width="1.9" fill="none" />
<circle cx="265.3" cy="618.2" r="69.8" stroke="#000" stroke-width="1.9" fill="none" />
<circle cx="265.3" cy="618.2" r="74.65" stroke="#000" stroke-width="1.9" fill="none" />
<circle cx="265.3" cy="618.2" r="79.5" stroke="#000" stroke-width="1.9" fill="none" />
<circle cx="265.3" cy="618.2" r="84.35" stroke="#000" stroke-width="1.9" fill="none" />
<circle cx="265.3" cy="618.2" r="89.2" stroke="#000" stroke-width="1.9" fill="none" />
<circle cx="265.3" cy="618.2" r="94.05" stroke="#000" stroke-width="1.9" fill="none" />
<circle cx="265.3" cy="618.2" r="98.9" stroke="#000" stroke-width="1.9" fill="none" />
<circle cx="265.3" cy="618.2" r="103.75" stroke="#000" stroke-width="1.9" fill="none" />
<line x1="144.3" y1="567.0" x2="144.3" y2="597.4" stroke="#000" stroke-width="4.6" />
<line x1="142.0" y1="569.3" x2="196.70000000000002" y2="569.3" stroke="#000" stroke-width="4.6" />
<line x1="144.3" y1="592.8000000000001" x2="144.3" y2="622.6999999999999" stroke="#000" stroke-width="4.6" />
<line x1="142.0" y1="595.1" x2="196.70000000000002" y2="595.1" stroke="#000" stroke-width="4.6" />
<line x1="144.3" y1="618.1" x2="144.3" y2="649.0999999999999" stroke="#000" stroke-width="4.6" />
<line x1="142.0" y1="620.4" x2="196.70000000000002" y2="620.4" stroke="#000" stroke-width="4.6" />
<line x1="144.3" y1="644.5" x2="144.3" y2="675.0999999999999" stroke="#000" stroke-width="4.6" />
<line x1="142.0" y1="646.8" x2="196.70000000000002" y2="646.8" stroke="#000" stroke-width="4.6" />
<line x1="142.0" y1="672.8" x2="196.70000000000002" y2="672.8" stroke="#000" stroke-width="4.6" />
<line x1="194.4" y1="541.2" x2="194.4" y2="571.5999999999999" stroke="#000" stroke-width="4.6" />
<line x1="192.1" y1="543.5" x2="246.9" y2="543.5" stroke="#000" stroke-width="4.6" />
<line x1="194.4" y1="567.0" x2="194.4" y2="597.4" stroke="#000" stroke-width="4.6" />
<line x1="192.1" y1="569.3" x2="246.9" y2="569.3" stroke="#000" stroke-width="4.6" />
<line x1="194.4" y1="592.8000000000001" x2="194.4" y2="622.6999999999999" stroke="#000" stroke-width="4.6" />
<line x1="192.1" y1="595.1" x2="246.9" y2="595.1" stroke="#000" stroke-width="4.6" />
<line x1="194.4" y1="618.1" x2="194.4" y2="649.0999999999999" stroke="#000" stroke-width="4.6" />
<line x1="192.1" y1="620.4" x2="246.9" y2="620.4" stroke="#000" stroke-width="4.6" />
<line x1="194.4" y1="644.5" x2="194.4" y2="675.0999999999999" stroke="#000" stroke-width="4.6" />
<line x1="192.1" y1="646.8" x2="246.9" y2="646.8" stroke="#000" stroke-width="4.6" />
<line x1="194.4" y1="670.5" x2="194.4" y2="701.0999999999999" stroke="#000" stroke-width="4.6" />
<line x1="192.1" y1="672.8" x2="246.9" y2="672.8" stroke="#000" stroke-width="4.6" />
<line x1="192.1" y1="698.8" x2="246.9" y2="698.8" stroke="#000" stroke-width="4.6" />
<line x1="244.6" y1="515.3000000000001" x2="244.6" y2="545.8" stroke="#000" stroke-width="4.6" />
<line x1="242.29999999999998" y1="517.6" x2="296.8" y2="517.6" stroke="#000" stroke-width="4.6" />
<line x1="244.6" y1="541.2" x2="244.6" y2="571.5999999999999" stroke="#000" stroke-width="4.6" />
<line x1="242.29999999999998" y1="543.5" x2="296.8" y2="543.5" stroke="#000" stroke-width="4.6" />
<line x1="244.6" y1="567.0" x2="244.6" y2="597.4" stroke="#000" stroke-width="4.6" />
<line x1="242.29999999999998" y1="569.3" x2="296.8" y2="569.3" stroke="#000" stroke-width="4.6" />
<line x1="244.6" y1="592.8000000000001" x2="244.6" y2="622.6999999999999" stroke="#000" stroke-width="4.6" />
<line x1="242.29999999999998" y1="595.1" x2="296.8" y2="595.1" stroke="#000" stroke-width="4.6" />
<line x1="244.6" y1="618.1" x2="244.6" y2="649.0999999999999" stroke="#000" stroke-width="4.6" />
<line x1="242.29999999999998" y1="620.4" x2="296.8" y2="620.4" stroke="#000" stroke-width="4.6" />
<line x1="244.6" y1="644.5" x2="244.6" y2="675.0999999999999" stroke="#000" stroke-width="4.6" />
<line x1="242.29999999999998" y1="646.8" x2="296.8" y2="646.8" stroke="#000" stroke-width="4.6" />
<line x1="244.6" y1="670.5" x2="244.6" y2="701.0999999999999" stroke="#000" stroke-width="4.6" />
<line x1="242.29999999999998" y1="672.8" x2="296.8" y2="672.8" stroke="#000" stroke-width="4.6" />
<line x1="244.6" y1="696.5" x2="244.6" y2="727.0999999999999" stroke="#000" stroke-width="4.6" />
<line x1="242.29999999999998" y1="698.8" x2="296.8" y2="698.8" stroke="#000" stroke-width="4.6" />
<line x1="242.29999999999998" y1="724.8" x2="296.8" y2="724.8" stroke="#000" stroke-width="4.6" />
<line x1="294.5" y1="515.3000000000001" x2="294.5" y2="545.8" stroke="#000" stroke-width="4.6" />
<line x1="294.5" y1="541.2" x2="294.5" y2="571.5999999999999" stroke="#000" stroke-width="4.6" />
<line x1="292.2" y1="543.5" x2="346.90000000000003" y2="543.5" stroke="#000" stroke-width="4.6" />
<line x1="294.5" y1="567.0" x2="294.5" y2="597.4" stroke="#000" stroke-width="4.6" />
<line x1="292.2" y1="569.3" x2="346.90000000000003" y2="569.3" stroke="#000" stroke-width="4.6" />
<line x1="294.5" y1="592.8000000000001" x2="294.5" y2="622.6999999999999" stroke="#000" stroke-width="4.6" />
<line x1="292.2" y1="595.1" x2="346.90000000000003" y2="595.1" stroke="#000" stroke-width="4.6" />
<line x1="294.5" y1="618.1" x2="294.5" y2="649.0999999999999" stroke="#000" stroke-width="4.6" />
<line x1="292.2" y1="620.4" x2="346.90000000000003" y2="620.4" stroke="#000" stroke-width="4.6" />
<line x1="294.5" y1="644.5" x2="294.5" y2="675.0999999999999" stroke="#000" stroke-width="4.6" />
<line x1="292.2" y1="646.8" x2="346.90000000000003" y2="646.8" stroke="#000" stroke-width="4.6" />
<line x1="294.5" y1="670.5" x2="294.5" y2="701.0999999999999" stroke="#000" stroke-width="4.6" />
<line x1="292.2" y1="672.8" x2="346.90000000000003" y2="672.8" stroke="#000" stroke-width="4.6" />
<line x1="294.5" y1="696.5" x2="294.5" y2="727.0999999999999" stroke="#000" stroke-width="4.6" />
<line x1="292.2" y1="698.8" x2="346.90000000000003" y2="698.8" stroke="#000" stroke-width="4.6" />
<line x1="344.6" y1="541.2" x2="344.6" y2="571.5999999999999" stroke="#000" stroke-width="4.6" />
<line x1="344.6" y1="567.0" x2="344.6" y2="597.4" stroke="#000" stroke-width="4.6" />
<line x1="342.3" y1="569.3" x2="397.0" y2="569.3" stroke="#000" stroke-width="4.6" />
<line x1="344.6" y1="592.8000000000001" x2="344.6" y2="622.6999999999999" stroke="#000" stroke-width="4.6" />
<line x1="342.3" y1="595.1" x2="397.0" y2="595.1" stroke="#000" stroke-width="4.6" />
<line x1="344.6" y1="618.1" x2="344.6" y2="649.0999999999999" stroke="#000" stroke-width="4.6" />
<line x1="342.3" y1="620.4" x2="397.0" y2="620.4" stroke="#000" stroke-width="4.6" />
<line x1="344.6" y1="644.5" x2="344.6" y2="675.0999999999999" stroke="#000" stroke-width="4.6" />
<line x1="342.3" y1="646.8" x2="397.0" y2="646.8" stroke="#000" stroke-width="4.6" />
<line x1="344.6" y1="670.5" x2="344.6" y2="701.0999999999999" stroke="#000" stroke-width="4.6" />
<line x1="342.3" y1="672.8" x2="397.0" y2="672.8" stroke="#000" stroke-width="4.6" />
<line x1="394.7" y1="567.0" x2="394.7" y2="597.4" stroke="#000" stroke-width="4.6" />
<line x1="394.7" y1="592.8000000000001" x2="394.7" y2="622.6999999999999" stroke="#000" stroke-width="4.6" />
<line x1="394.7" y1="618.1" x2="394.7" y2="649.0999999999999" stroke="#000" stroke-width="4.6" />
<line x1="394.7" y1="644.5" x2="394.7" y2="675.0999999999999" stroke="#000" stroke-width="4.6" />
<line x1="144.3" y1="569.3" x2="144.3" y2="595.1" stroke="#fff" stroke-width="1.6" stroke-dasharray="2.8,1.4"/>
<line x1="144.3" y1="569.3" x2="194.4" y2="569.3" stroke="#fff" stroke-width="1.6" stroke-dasharray="2.8,1.4"/>
<line x1="144.3" y1="595.1" x2="144.3" y2="620.4" stroke="#fff" stroke-width="1.6" stroke-dasharray="2.8,1.4"/>
<line x1="144.3" y1="595.1" x2="194.4" y2="595.1" stroke="#fff" stroke-width="1.6" stroke-dasharray="2.8,1.4"/>
<line x1="144.3" y1="620.4" x2="144.3" y2="646.8" stroke="#fff" stroke-width="1.6" stroke-dasharray="2.8,1.4"/>
<line x1="144.3" y1="620.4" x2="194.4" y2="620.4" stroke="#fff" stroke-width="1.6" stroke-dasharray="2.8,1.4"/>
<line x1="144.3" y1="646.8" x2="144.3" y2="672.8" stroke="#fff" stroke-width="1.6" stroke-dasharray="2.8,1.4"/>
<line x1="144.3" y1="646.8" x2="194.4" y2="646.8" stroke="#fff" stroke-width="1.6" stroke-dasharray="2.8,1.4"/>
<line x1="144.3" y1="672.8" x2="194.4" y2="672.8" stroke="#fff" stroke-width="1.6" stroke-dasharray="2.8,1.4"/>
<line x1="194.4" y1="543.5" x2="194.4" y2="569.3" stroke="#fff" stroke-width="1.6" stroke-dasharray="2.8,1.4"/>
<line x1="194.4" y1="543.5" x2="244.6" y2="543.5" stroke="#fff" stroke-width="1.6" stroke-dasharray="2.8,1.4"/>
<line x1="194.4" y1="569.3" x2="194.4" y2="595.1" stroke="#fff" stroke-width="1.6" stroke-dasharray="2.8,1.4"/>
<line x1="194.4" y1="569.3" x2="244.6" y2="569.3" stroke="#fff" stroke-width="1.6" stroke-dasharray="2.8,1.4"/>
<line x1="194.4" y1="595.1" x2="194.4" y2="620.4" stroke="#fff" stroke-width="1.6" stroke-dasharray="2.8,1.4"/>
<line x1="194.4" y1="595.1" x2="244.6" y2="595.1" stroke="#fff" stroke-width="1.6" stroke-dasharray="2.8,1.4"/>
<line x1="194.4" y1="620.4" x2="194.4" y2="646.8" stroke="#fff" stroke-width="1.6" stroke-dasharray="2.8,1.4"/>
<line x1="194.4" y1="620.4" x2="244.6" y2="620.4" stroke="#fff" stroke-width="1.6" stroke-dasharray="2.8,1.4"/>
<line x1="194.4" y1="646.8" x2="194.4" y2="672.8" stroke="#fff" stroke-width="1.6" stroke-dasharray="2.8,1.4"/>
<line x1="194.4" y1="646.8" x2="244.6" y2="646.8" stroke="#fff" stroke-width="1.6" stroke-dasharray="2.8,1.4"/>
<line x1="194.4" y1="672.8" x2="194.4" y2="698.8" stroke="#fff" stroke-width="1.6" stroke-dasharray="2.8,1.4"/>
<line x1="194.4" y1="672.8" x2="244.6" y2="672.8" stroke="#fff" stroke-width="1.6" stroke-dasharray="2.8,1.4"/>
<line x1="194.4" y1="698.8" x2="244.6" y2="698.8" stroke="#fff" stroke-width="1.6" stroke-dasharray="2.8,1.4"/>
<line x1="244.6" y1="517.6" x2="244.6" y2="543.5" stroke="#fff" stroke-width="1.6" stroke-dasharray="2.8,1.4"/>
<line x1="244.6" y1="517.6" x2="294.5" y2="517.6" stroke="#fff" stroke-width="1.6" stroke-dasharray="2.8,1.4"/>
<line x1="244.6" y1="543.5" x2="244.6" y2="569.3" stroke="#fff" stroke-width="1.6" stroke-dasharray="2.8,1.4"/>
<line x1="244.6" y1="543.5" x2="294.5" y2="543.5" stroke="#fff" stroke-width="1.6" stroke-dasharray="2.8,1.4"/>
<line x1="244.6" y1="569.3" x2="244.6" y2="595.1" stroke="#fff" stroke-width="1.6" stroke-dasharray="2.8,1.4"/>
<line x1="244.6" y1="569.3" x2="294.5" y2="569.3" stroke="#fff" stroke-width="1.6" stroke-dasharray="2.8,1.4"/>
<line x1="244.6" y1="595.1" x2="244.6" y2="620.4" stroke="#fff" stroke-width="1.6" stroke-dasharray="2.8,1.4"/>
<line x1="244.6" y1="595.1" x2="294.5" y2="595.1" stroke="#fff" stroke-width="1.6" stroke-dasharray="2.8,1.4"/>
<line x1="244.6" y1="620.4" x2="244.6" y2="646.8" stroke="#fff" stroke-width="1.6" stroke-dasharray="2.8,1.4"/>
<line x1="244.6" y1="620.4" x2="294.5" y2="620.4" stroke="#fff" stroke-width="1.6" stroke-dasharray="2.8,1.4"/>
<line x1="244.6" y1="646.8" x2="244.6" y2="672.8" stroke="#fff" stroke-width="1.6" stroke-dasharray="2.8,1.4"/>
<line x1="244.6" y1="646.8" x2="294.5" y2="646.8" stroke="#fff" stroke-width="1.6" stroke-dasharray="2.8,1.4"/>
<line x1="244.6" y1="672.8" x2="244.6" y2="698.8" stroke="#fff" stroke-width="1.6" stroke-dasharray="2.8,1.4"/>
<line x1="244.6" y1="672.8" x2="294.5" y2="672.8" stroke="#fff" stroke-width="1.6" stroke-dasharray="2.8,1.4"/>
<line x1="244.6" y1="698.8" x2="244.6" y2="724.8" stroke="#fff" stroke-width="1.6" stroke-dasharray="2.8,1.4"/>
<line x1="244.6" y1="698.8" x2="294.5" y2="698.8" stroke="#fff" stroke-width="1.6" stroke-dasharray="2.8,1.4"/>
<line x1="244.6" y1="724.8" x2="294.5" y2="724.8" stroke="#fff" stroke-width="1.6" stroke-dasharray="2.8,1.4"/>
<line x1="294.5" y1="517.6" x2="294.5" y2="543.5" stroke="#fff" stroke-width="1.6" stroke-dasharray="2.8,1.4"/>
<line x1="294.5" y1="543.5" x2="294.5" y2="569.3" stroke="#fff" stroke-width="1.6" stroke-dasharray="2.8,1.4"/>
<line x1="294.5" y1="543.5" x2="344.6" y2="543.5" stroke="#fff" stroke-width="1.6" stroke-dasharray="2.8,1.4"/>
<line x1="294.5" y1="569.3" x2="294.5" y2="595.1" stroke="#fff" stroke-width="1.6" stroke-dasharray="2.8,1.4"/>
<line x1="294.5" y1="569.3" x2="344.6" y2="569.3" stroke="#fff" stroke-width="1.6" stroke-dasharray="2.8,1.4"/>
<line x1="294.5" y1="595.1" x2="294.5" y2="620.4" stroke="#fff" stroke-width="1.6" stroke-dasharray="2.8,1.4"/>
<line x1="294.5" y1="595.1" x2="344.6" y2="595.1" stroke="#fff" stroke-width="1.6" stroke-dasharray="2.8,1.4"/>
<line x1="294.5" y1="620.4" x2="294.5" y2="646.8" stroke="#fff" stroke-width="1.6" stroke-dasharray="2.8,1.4"/>
<line x1="294.5" y1="620.4" x2="344.6" y2="620.4" stroke="#fff" stroke-width="1.6" stroke-dasharray="2.8,1.4"/>
<line x1="294.5" y1="646.8" x2="294.5" y2="672.8" stroke="#fff" stroke-width="1.6" stroke-dasharray="2.8,1.4"/>
<line x1="294.5" y1="646.8" x2="344.6" y2="646.8" stroke="#fff" stroke-width="1.6" stroke-dasharray="2.8,1.4"/>
<line x1="294.5" y1="672.8" x2="294.5" y2="698.8" stroke="#fff" stroke-width="1.6" stroke-dasharray="2.8,1.4"/>
<line x1="294.5" y1="672.8" x2="344.6" y2="672.8" stroke="#fff" stroke-width="1.6" stroke-dasharray="2.8,1.4"/>
<line x1="294.5" y1="698.8" x2="294.5" y2="724.8" stroke="#fff" stroke-width="1.6" stroke-dasharray="2.8,1.4"/>
<line x1="294.5" y1="698.8" x2="344.6" y2="698.8" stroke="#fff" stroke-width="1.6" stroke-dasharray="2.8,1.4"/>
<line x1="344.6" y1="543.5" x2="344.6" y2="569.3" stroke="#fff" stroke-width="1.6" stroke-dasharray="2.8,1.4"/>
<line x1="344.6" y1="569.3" x2="344.6" y2="595.1" stroke="#fff" stroke-width="1.6" stroke-dasharray="2.8,1.4"/>
<line x1="344.6" y1="569.3" x2="394.7" y2="569.3" stroke="#fff" stroke-width="1.6" stroke-dasharray="2.8,1.4"/>
<line x1="344.6" y1="595.1" x2="344.6" y2="620.4" stroke="#fff" stroke-width="1.6" stroke-dasharray="2.8,1.4"/>
<line x1="344.6" y1="595.1" x2="394.7" y2="595.1" stroke="#fff" stroke-width="1.6" stroke-dasharray="2.8,1.4"/>
<line x1="344.6" y1="620.4" x2="344.6" y2="646.8" stroke="#fff" stroke-width="1.6" stroke-dasharray="2.8,1.4"/>
<line x1="344.6" y1="620.4" x2="394.7" y2="620.4" stroke="#fff" stroke-width="1.6" stroke-dasharray="2.8,1.4"/>
<line x1="344.6" y1="646.8" x2="344.6" y2="672.8" stroke="#fff" stroke-width="1.6" stroke-dasharray="2.8,1.4"/>
<line x1="344.6" y1="646.8" x2="394.7" y2="646.8" stroke="#fff" stroke-width="1.6" stroke-dasharray="2.8,1.4"/>
<line x1="344.6" y1="672.8" x2="344.6" y2="698.8" stroke="#fff" stroke-width="1.6" stroke-dasharray="2.8,1.4"/>
<line x1="344.6" y1="672.8" x2="394.7" y2="672.8" stroke="#fff" stroke-width="1.6" stroke-dasharray="2.8,1.4"/>
<line x1="394.7" y1="569.3" x2="394.7" y2="595.1" stroke="#fff" stroke-width="1.6" stroke-dasharray="2.8,1.4"/>
<line x1="394.7" y1="595.1" x2="394.7" y2="620.4" stroke="#fff" stroke-width="1.6" stroke-dasharray="2.8,1.4"/>
<line x1="394.7" y1="620.4" x2="394.7" y2="646.8" stroke="#fff" stroke-width="1.6" stroke-dasharray="2.8,1.4"/>
<line x1="394.7" y1="646.8" x2="394.7" y2="672.8" stroke="#fff" stroke-width="1.6" stroke-dasharray="2.8,1.4"/>
</g>
<line x1="284.35" y1="629.2" x2="359.7" y2="672.7" stroke="#000" stroke-width="1.5" />
<line x1="276.3" y1="637.25" x2="319.8" y2="712.6" stroke="#000" stroke-width="1.5" />
<line x1="254.3" y1="637.25" x2="210.8" y2="712.6" stroke="#000" stroke-width="1.5" />
<line x1="246.25" y1="629.2" x2="170.9" y2="672.7" stroke="#000" stroke-width="1.5" />
<line x1="246.25" y1="607.2" x2="170.9" y2="563.7" stroke="#000" stroke-width="1.5" />
<line x1="254.3" y1="599.15" x2="210.8" y2="523.8" stroke="#000" stroke-width="1.5" />
<line x1="276.3" y1="599.15" x2="319.8" y2="523.8" stroke="#000" stroke-width="1.5" />
<line x1="284.35" y1="607.2" x2="359.7" y2="563.7" stroke="#000" stroke-width="1.5" />
<path d="M377.90,618.20 L377.86,622.13 L377.71,626.06 L377.45,629.99 L377.07,633.91 L376.57,637.82 L375.95,641.72 L375.19,645.60 L374.30,649.46 L373.28,653.28 L372.12,657.08 L370.82,660.83 L369.39,664.54 L367.82,668.20 L366.12,671.81 L364.28,675.34 L362.30,678.81 L360.19,682.21 L357.95,685.52 L355.59,688.74 L353.10,691.87 L350.49,694.90 L347.76,697.83 L344.92,700.65 L341.97,703.35 L338.92,705.94 L335.78,708.41 L332.54,710.75 L329.22,712.96 L325.81,715.04 L322.34,716.99 L318.79,718.81 L315.19,720.49 L311.53,722.03 L307.82,723.44 L304.07,724.72 L300.28,725.86 L296.46,726.86 L292.61,727.74 L288.74,728.48 L284.85,729.10 L280.95,729.59 L277.05,729.96 L273.13,730.21 L269.22,730.36 L265.30,730.40 L261.38,730.36 L257.47,730.21 L253.55,729.96 L249.65,729.59 L245.75,729.10 L241.86,728.48 L237.99,727.74 L234.14,726.86 L230.32,725.86 L226.53,724.72 L222.78,723.44 L219.07,722.03 L215.41,720.49 L211.81,718.81 L208.26,716.99 L204.79,715.04 L201.38,712.96 L198.06,710.75 L194.82,708.41 L191.68,705.94 L188.63,703.35 L185.68,700.65 L182.84,697.83 L180.11,694.90 L177.50,691.87 L175.01,688.74 L172.65,685.52 L170.41,682.21 L168.30,678.81 L166.32,675.34 L164.48,671.81 L162.78,668.20 L161.21,664.54 L159.78,660.83 L158.48,657.08 L157.32,653.28 L156.30,649.46 L155.41,645.60 L154.65,641.72 L154.03,637.82 L153.53,633.91 L153.15,629.99 L152.89,626.06 L152.74,622.13 L152.70,618.20 L152.74,614.27 L152.89,610.34 L153.15,606.41 L153.53,602.49 L154.03,598.58 L154.65,594.68 L155.41,590.80 L156.30,586.94 L157.32,583.12 L158.48,579.32 L159.78,575.57 L161.21,571.86 L162.78,568.20 L164.48,564.59 L166.32,561.06 L168.30,557.59 L170.41,554.19 L172.65,550.88 L175.01,547.66 L177.50,544.53 L180.11,541.50 L182.84,538.57 L185.68,535.75 L188.63,533.05 L191.68,530.46 L194.82,527.99 L198.06,525.65 L201.38,523.44 L204.79,521.36 L208.26,519.41 L211.81,517.59 L215.41,515.91 L219.07,514.37 L222.78,512.96 L226.53,511.68 L230.32,510.54 L234.14,509.54 L237.99,508.66 L241.86,507.92 L245.75,507.30 L249.65,506.81 L253.55,506.44 L257.47,506.19 L261.38,506.04 L265.30,506.00 L269.22,506.04 L273.13,506.19 L277.05,506.44 L280.95,506.81 L284.85,507.30 L288.74,507.92 L292.61,508.66 L296.46,509.54 L300.28,510.54 L304.07,511.68 L307.82,512.96 L311.53,514.37 L315.19,515.91 L318.79,517.59 L322.34,519.41 L325.81,521.36 L329.22,523.44 L332.54,525.65 L335.78,527.99 L338.92,530.46 L341.97,533.05 L344.92,535.75 L347.76,538.57 L350.49,541.50 L353.10,544.53 L355.59,547.66 L357.95,550.88 L360.19,554.19 L362.30,557.59 L364.28,561.06 L366.12,564.59 L367.82,568.20 L369.39,571.86 L370.82,575.57 L372.12,579.32 L373.28,583.12 L374.30,586.94 L375.19,590.80 L375.95,594.68 L376.57,598.58 L377.07,602.49 L377.45,606.41 L377.71,610.34 L377.86,614.27 Z" stroke="#000" stroke-width="2.5" fill="none" />
<path d="M377.90,618.20 L377.86,622.13 L377.71,626.06 L377.45,629.99 L377.07,633.91 L376.57,637.82 L375.95,641.72 L375.19,645.60 L374.30,649.46 L373.28,653.28 L372.12,657.08 L370.82,660.83 L369.39,664.54 L367.82,668.20 L366.12,671.81 L364.28,675.34 L362.30,678.81 L360.19,682.21 L357.95,685.52 L355.59,688.74 L353.10,691.87 L350.49,694.90 L347.76,697.83 L344.92,700.65 L341.97,703.35 L338.92,705.94 L335.78,708.41 L332.54,710.75 L329.22,712.96 L325.81,715.04 L322.34,716.99 L318.79,718.81 L315.19,720.49 L311.53,722.03 L307.82,723.44 L304.07,724.72 L300.28,725.86 L296.46,726.86 L292.61,727.74 L288.74,728.48 L284.85,729.10 L280.95,729.59 L277.05,729.96 L273.13,730.21 L269.22,730.36 L265.30,730.40 L261.38,730.36 L257.47,730.21 L253.55,729.96 L249.65,729.59 L245.75,729.10 L241.86,728.48 L237.99,727.74 L234.14,726.86 L230.32,725.86 L226.53,724.72 L222.78,723.44 L219.07,722.03 L215.41,720.49 L211.81,718.81 L208.26,716.99 L204.79,715.04 L201.38,712.96 L198.06,710.75 L194.82,708.41 L191.68,705.94 L188.63,703.35 L185.68,700.65 L182.84,697.83 L180.11,694.90 L177.50,691.87 L175.01,688.74 L172.65,685.52 L170.41,682.21 L168.30,678.81 L166.32,675.34 L164.48,671.81 L162.78,668.20 L161.21,664.54 L159.78,660.83 L158.48,657.08 L157.32,653.28 L156.30,649.46 L155.41,645.60 L154.65,641.72 L154.03,637.82 L153.53,633.91 L153.15,629.99 L152.89,626.06 L152.74,622.13 L152.70,618.20 L152.74,614.27 L152.89,610.34 L153.15,606.41 L153.53,602.49 L154.03,598.58 L154.65,594.68 L155.41,590.80 L156.30,586.94 L157.32,583.12 L158.48,579.32 L159.78,575.57 L161.21,571.86 L162.78,568.20 L164.48,564.59 L166.32,561.06 L168.30,557.59 L170.41,554.19 L172.65,550.88 L175.01,547.66 L177.50,544.53 L180.11,541.50 L182.84,538.57 L185.68,535.75 L188.63,533.05 L191.68,530.46 L194.82,527.99 L198.06,525.65 L201.38,523.44 L204.79,521.36 L208.26,519.41 L211.81,517.59 L215.41,515.91 L219.07,514.37 L222.78,512.96 L226.53,511.68 L230.32,510.54 L234.14,509.54 L237.99,508.66 L241.86,507.92 L245.75,507.30 L249.65,506.81 L253.55,506.44 L257.47,506.19 L261.38,506.04 L265.30,506.00 L269.22,506.04 L273.13,506.19 L277.05,506.44 L280.95,506.81 L284.85,507.30 L288.74,507.92 L292.61,508.66 L296.46,509.54 L300.28,510.54 L304.07,511.68 L307.82,512.96 L311.53,514.37 L315.19,515.91 L318.79,517.59 L322.34,519.41 L325.81,521.36 L329.22,523.44 L332.54,525.65 L335.78,527.99 L338.92,530.46 L341.97,533.05 L344.92,535.75 L347.76,538.57 L350.49,541.50 L353.10,544.53 L355.59,547.66 L357.95,550.88 L360.19,554.19 L362.30,557.59 L364.28,561.06 L366.12,564.59 L367.82,568.20 L369.39,571.86 L370.82,575.57 L372.12,579.32 L373.28,583.12 L374.30,586.94 L375.19,590.80 L375.95,594.68 L376.57,598.58 L377.07,602.49 L377.45,606.41 L377.71,610.34 L377.86,614.27 Z" stroke="#fff" stroke-width="0.5" fill="none" stroke-dasharray="1.5,3"/>
<path d="M373.70,618.20 L373.66,621.98 L373.52,625.77 L373.26,629.55 L372.90,633.32 L372.41,637.09 L371.80,640.84 L371.07,644.57 L370.21,648.28 L369.22,651.96 L368.09,655.61 L366.84,659.22 L365.45,662.79 L363.93,666.30 L362.28,669.76 L360.50,673.16 L358.58,676.49 L356.55,679.75 L354.38,682.92 L352.09,686.01 L349.69,689.01 L347.17,691.91 L344.54,694.72 L341.80,697.41 L338.95,700.00 L336.01,702.47 L332.98,704.83 L329.87,707.07 L326.67,709.18 L323.39,711.17 L320.05,713.03 L316.64,714.76 L313.18,716.36 L309.66,717.84 L306.10,719.18 L302.49,720.39 L298.86,721.48 L295.19,722.44 L291.50,723.27 L287.78,723.97 L284.05,724.56 L280.31,725.03 L276.57,725.38 L272.81,725.62 L269.06,725.76 L265.30,725.80 L261.54,725.76 L257.79,725.62 L254.03,725.38 L250.29,725.03 L246.55,724.56 L242.82,723.97 L239.10,723.27 L235.41,722.44 L231.74,721.48 L228.11,720.39 L224.50,719.18 L220.94,717.84 L217.42,716.36 L213.96,714.76 L210.55,713.03 L207.21,711.17 L203.93,709.18 L200.73,707.07 L197.62,704.83 L194.59,702.47 L191.65,700.00 L188.80,697.41 L186.06,694.72 L183.43,691.91 L180.91,689.01 L178.51,686.01 L176.22,682.92 L174.05,679.75 L172.02,676.49 L170.10,673.16 L168.32,669.76 L166.67,666.30 L165.15,662.79 L163.76,659.22 L162.51,655.61 L161.38,651.96 L160.39,648.28 L159.53,644.57 L158.80,640.84 L158.19,637.09 L157.70,633.32 L157.34,629.55 L157.08,625.77 L156.94,621.98 L156.90,618.20 L156.94,614.42 L157.08,610.63 L157.34,606.85 L157.70,603.08 L158.19,599.31 L158.80,595.56 L159.53,591.83 L160.39,588.12 L161.38,584.44 L162.51,580.79 L163.76,577.18 L165.15,573.61 L166.67,570.10 L168.32,566.64 L170.10,563.24 L172.02,559.91 L174.05,556.65 L176.22,553.48 L178.51,550.39 L180.91,547.39 L183.43,544.49 L186.06,541.68 L188.80,538.99 L191.65,536.40 L194.59,533.93 L197.62,531.57 L200.73,529.33 L203.93,527.22 L207.21,525.23 L210.55,523.37 L213.96,521.64 L217.42,520.04 L220.94,518.56 L224.50,517.22 L228.11,516.01 L231.74,514.92 L235.41,513.96 L239.10,513.13 L242.82,512.43 L246.55,511.84 L250.29,511.37 L254.03,511.02 L257.79,510.78 L261.54,510.64 L265.30,510.60 L269.06,510.64 L272.81,510.78 L276.57,511.02 L280.31,511.37 L284.05,511.84 L287.78,512.43 L291.50,513.13 L295.19,513.96 L298.86,514.92 L302.49,516.01 L306.10,517.22 L309.66,518.56 L313.18,520.04 L316.64,521.64 L320.05,523.37 L323.39,525.23 L326.67,527.22 L329.87,529.33 L332.98,531.57 L336.01,533.93 L338.95,536.40 L341.80,538.99 L344.54,541.68 L347.17,544.49 L349.69,547.39 L352.09,550.39 L354.38,553.48 L356.55,556.65 L358.58,559.91 L360.50,563.24 L362.28,566.64 L363.93,570.10 L365.45,573.61 L366.84,577.18 L368.09,580.79 L369.22,584.44 L370.21,588.12 L371.07,591.83 L371.80,595.56 L372.41,599.31 L372.90,603.08 L373.26,606.85 L373.52,610.63 L373.66,614.42 Z" stroke="#000" stroke-width="2.4" fill="none" />
<circle cx="265.3" cy="618.2" r="118.2" stroke="#000" stroke-width="1.2" fill="none" />
<rect x="266" y="499.5" width="4.5" height="3.5" fill="#999"/>
<circle cx="262.5" cy="502" r="1.6" stroke="#000" stroke-width="1" fill="none" />
<circle cx="265.3" cy="733.8" r="2.2" stroke="#000" stroke-width="1.2" fill="none" />
<line x1="268" y1="731" x2="270" y2="736" stroke="#000" stroke-width="0.9" />
<circle cx="265.3" cy="618.2" r="22.6" stroke="#000" stroke-width="1.6" fill="none" />
<circle cx="265.3" cy="618.2" r="21.4" stroke="#000" stroke-width="0.6" fill="#fff" />
<circle cx="265.3" cy="618.2" r="13.4" stroke="#000" stroke-width="2.3" fill="none" />
<line x1="161.4" y1="705.8" x2="396.5" y2="503.5" stroke="#000" stroke-width="0.9" />
<path d="M175.61,695.34 L170.35,703.03 L167.22,699.39 Z" fill="#000"/>
<path d="M354.99,541.06 L360.25,533.37 L363.38,537.01 Z" fill="#000"/>
<text x="376.3" y="513.2" font-size="15.8" text-anchor="middle" fill="#000" font-weight="normal" transform="rotate(-40.2 376.3 513.2)" >Ø531</text>
<line x1="263.5" y1="495" x2="263.5" y2="597" stroke="#000" stroke-width="0.9" />
<line x1="263.5" y1="639.5" x2="263.5" y2="736" stroke="#000" stroke-width="0.9" />
<text x="20.3" y="854.8" font-size="20.6" text-anchor="start" fill="#3a3d48" font-weight="normal" textLength="105" lengthAdjust="spacingAndGlyphs">Ед. изм.: мм</text>
</svg></body></html>
